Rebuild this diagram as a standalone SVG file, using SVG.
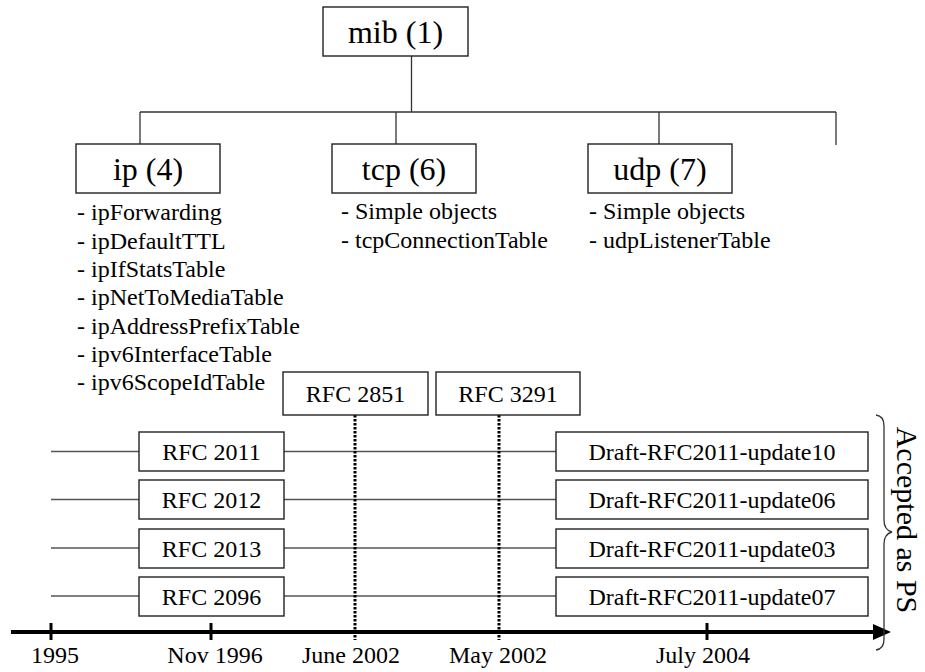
<svg xmlns="http://www.w3.org/2000/svg" width="925" height="672" viewBox="0 0 925 672" font-family="'Liberation Serif', 'Times New Roman', serif">
<style>
.big{font-family:'Liberation Serif','Times New Roman',serif;font-size:32px;text-anchor:middle;fill:#000}
.mid{font-family:'Liberation Serif','Times New Roman',serif;font-size:24px;text-anchor:middle;fill:#000}
.lst{font-family:'Liberation Serif','Times New Roman',serif;font-size:24px;fill:#000}
.vert{font-family:'Liberation Serif','Times New Roman',serif;font-size:30px;text-anchor:middle;fill:#000}
.box{fill:#fff;stroke:#222;stroke-width:1.4}
.con{fill:none;stroke:#333;stroke-width:1.3}
.tl{fill:none;stroke:#555;stroke-width:1.5}
.dot{fill:none;stroke:#000;stroke-width:3;stroke-dasharray:2.5,1.5}
.axis{fill:none;stroke:#000;stroke-width:4}
.tick{fill:none;stroke:#000;stroke-width:3}
</style>
<g id="connectors">
<path class="con" d="M411.5,56 V112 M140,112 H836 M140,112 V144 M396,112 V144 M659,112 V144 M836,112 V145"/>
<path class="tl" d="M51,451.5 H139 M284,451.5 H556 M51,499.5 H139 M284,499.5 H556 M51,548 H139 M284,548 H556 M51,596 H139 M284,596 H556"/>
<path class="dot" d="M355,415 V640 M499,415 V640"/>
</g>
<g id="axis">
<path class="axis" d="M11,632 H878"/>
<polygon points="873,624 891,632 873,640" fill="#000"/>
<path class="tick" d="M51,623 V640 M211,623 V640 M707,623 V640"/>
<text class="mid" x="55" y="663">1995</text>
<text class="mid" x="215" y="663">Nov 1996</text>
<text class="mid" x="351" y="663">June 2002</text>
<text class="mid" x="498" y="663">May 2002</text>
<text class="mid" x="703" y="663">July 2004</text>
</g>
<g id="mib"><rect class="box" x="323" y="7" width="145" height="49"/><text class="big" x="395.5" y="43">mib (1)</text></g>
<g id="ip"><rect class="box" x="76" y="144" width="144" height="49"/><text class="big" x="148" y="180">ip (4)</text>
<text class="lst" x="77" y="220">- ipForwarding</text>
<text class="lst" x="77" y="249">- ipDefaultTTL</text>
<text class="lst" x="77" y="277">- ipIfStatsTable</text>
<text class="lst" x="77" y="305">- ipNetToMediaTable</text>
<text class="lst" x="77" y="334">- ipAddressPrefixTable</text>
<text class="lst" x="77" y="362">- ipv6InterfaceTable</text>
<text class="lst" x="77" y="390">- ipv6ScopeIdTable</text>
</g>
<g id="tcp"><rect class="box" x="332" y="144" width="144" height="49"/><text class="big" x="404" y="180">tcp (6)</text>
<text class="lst" x="341" y="219">- Simple objects</text>
<text class="lst" x="341" y="248">- tcpConnectionTable</text>
</g>
<g id="udp"><rect class="box" x="588" y="144" width="144" height="49"/><text class="big" x="660" y="180">udp (7)</text>
<text class="lst" x="589" y="219">- Simple objects</text>
<text class="lst" x="589" y="248">- udpListenerTable</text>
</g>
<g id="rfc2851"><rect class="box" x="283" y="372" width="145" height="43"/><text class="mid" x="355.5" y="402">RFC 2851</text></g>
<g id="rfc3291"><rect class="box" x="436" y="372" width="144" height="43"/><text class="mid" x="508" y="402">RFC 3291</text></g>
<g id="rfc2011"><rect class="box" x="139" y="432" width="145" height="39"/><text class="mid" x="211.5" y="460">RFC 2011</text></g>
<g id="rfc2012"><rect class="box" x="139" y="480" width="145" height="39"/><text class="mid" x="211.5" y="508">RFC 2012</text></g>
<g id="rfc2013"><rect class="box" x="139" y="529" width="145" height="39"/><text class="mid" x="211.5" y="557">RFC 2013</text></g>
<g id="rfc2096"><rect class="box" x="139" y="577" width="145" height="39"/><text class="mid" x="211.5" y="605">RFC 2096</text></g>
<g id="draft10"><rect class="box" x="556" y="432" width="312" height="39"/><text class="mid" x="712" y="460">Draft-RFC2011-update10</text></g>
<g id="draft06"><rect class="box" x="556" y="480" width="312" height="39"/><text class="mid" x="712" y="508">Draft-RFC2011-update06</text></g>
<g id="draft03"><rect class="box" x="556" y="529" width="312" height="39"/><text class="mid" x="712" y="557">Draft-RFC2011-update03</text></g>
<g id="draft07"><rect class="box" x="556" y="577" width="312" height="39"/><text class="mid" x="712" y="605">Draft-RFC2011-update07</text></g>
<g id="brace">
<path class="con" d="M876,415 Q884,416 884,426 V520 Q884,530 892,532 Q884,534 884,544 V639 Q884,649 876,650"/>
<text class="vert" transform="translate(897,520) rotate(90)">Accepted as PS</text>
</g>
</svg>
